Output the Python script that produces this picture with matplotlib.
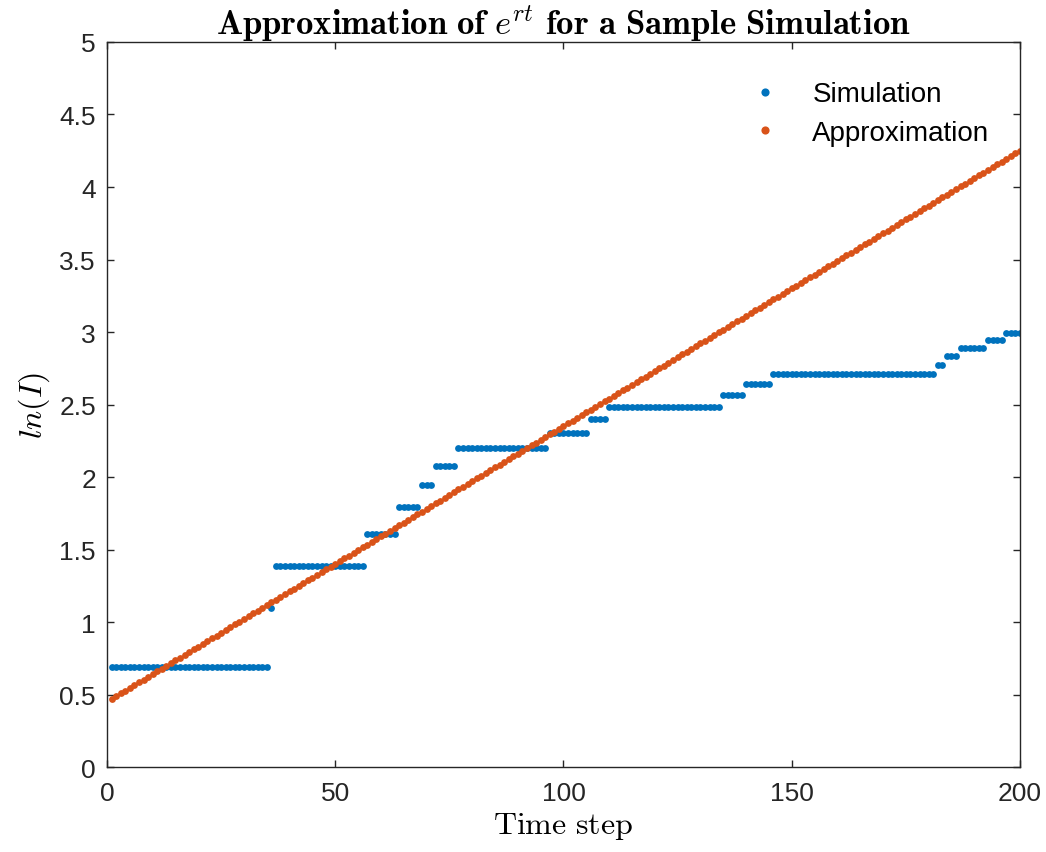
import numpy as np
import matplotlib
matplotlib.use('Agg')
import matplotlib.pyplot as plt

plt.rcParams['mathtext.fontset'] = 'cm'
plt.rcParams['font.family'] = ['Liberation Sans', 'DejaVu Sans']

# simulation: infected count I and the time step where each level starts
sim_levels = [2, 3, 4, 5, 6, 7, 8, 9, 10, 11, 12, 13, 14, 15, 16, 17, 18, 19, 20]
sim_starts = [1, 36, 37, 57, 64, 69, 72, 77, 97, 106, 110, 135, 140, 146, 182, 184, 187, 193, 197]
t_end = 200

# fitted approximation ln(I) = ln_I0 + r*t
ln_I0 = 0.451
r = 0.019

run_len = np.diff(sim_starts + [t_end + 1])
t = np.arange(1, t_end + 1)
sim_I = np.repeat(sim_levels, run_len)
approx = ln_I0 + r * t

fig = plt.figure(figsize=(10.46, 8.53), dpi=100)
ax = fig.add_axes([0.1023, 0.0996, 0.8728, 0.85])

ax.plot(t, np.log(sim_I), 'o', color='#0072BD', markersize=4.9, markeredgewidth=0, label='Simulation')
ax.plot(t, approx, 'o', color='#D95319', markersize=4.9, markeredgewidth=0, label='Approximation')

ax.set_xlim(0, 200)
ax.set_ylim(0, 5)
ax.set_xticks([0, 50, 100, 150, 200])
ax.set_yticks(np.arange(0, 5.01, 0.5))
ax.set_yticklabels(['0', '0.5', '1', '1.5', '2', '2.5', '3', '3.5', '4', '4.5', '5'])
ax.tick_params(direction='in', top=True, right=True, labelsize=19, colors='#262626', length=5, width=1)
ax.tick_params(axis='y', pad=8)
ax.tick_params(axis='x', pad=10)
for s in ax.spines.values():
    s.set_color('#262626')
    s.set_linewidth(1)

ax.set_title(r'$\mathbf{Approximation\ of\ }e^{rt}\mathbf{\ for\ a\ Sample\ Simulation}$', fontsize=25, pad=6)
ax.set_xlabel(r'$\mathrm{Time\ step}$', fontsize=23, labelpad=4)
ax.set_ylabel(r'$ln(I)$', fontsize=23, labelpad=5)

leg = ax.legend(loc='upper right', frameon=False, fontsize=20, markerscale=1.2,
                handlelength=1.0, handletextpad=1.2, labelspacing=0.45,
                bbox_to_anchor=(0.994, 0.98))

fig.savefig('out.png', dpi=100)
